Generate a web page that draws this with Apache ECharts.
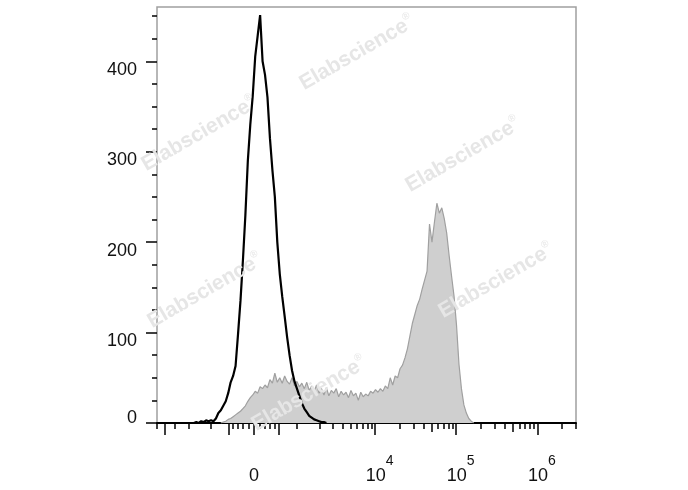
<!DOCTYPE html>
<html><head><meta charset="utf-8">
<script src="https://cdn.jsdelivr.net/npm/echarts@6/dist/echarts.min.js"></script>
<style>html,body{margin:0;padding:0;background:#fff}#c{width:688px;height:490px}</style>
</head><body><div id="c"></div>
<script>
// ---------------- data ----------------
const CHANNELS = 1024;          // display channels across the x axis
const binStep = 6;              // channel width of one histogram bin
const grayStartChannel = 156;   // stained sample (filled gray)
const grayCounts = [0,1,2,4,5,7,9,11,13,16,
  19,24,28,31,35,33,40,38,42,39,
  48,44,55,45,50,44,52,46,43,50,
  41,46,40,44,38,45,36,41,35,42,
  33,38,31,39,30,36,33,38,29,35,
  31,34,28,36,30,33,25,34,29,32,
  30,35,33,37,34,38,35,41,38,50,
  42,52,50,60,64,72,82,96,110,120,
  130,137,148,158,168,220,200,222,243,232,
  238,226,210,185,162,140,108,65,38,20,
  11,5,2,0];
const blackStartChannel = 90;   // control (black line)
const blackCounts = [0,1,0,2,1,3,2,3,2,5,
  11,14,19,24,33,45,52,63,98,135,
  180,230,290,330,362,405,428,451,400,385,
  360,315,280,250,200,165,140,118,95,75,
  58,46,38,30,22,16,12,8,6,4,
  3,2,1,1,0];
const yMax = 460;
const yMajorTicks = [0,100,200,300,400];
const yLabelValues = [100,200,300,400];
const yZeroLabel = [0];
const yMinorTicks = [25,50,75,125,150,175,225,250,275,325,350,375,425,450];
const xLabelValues = [0, 1e4, 1e5, 1e6];
const xLongTicks = [-4000,-500,0,500,1e4,1e5,1e6];
const xMidTicks = [5e4,5e5];
const xShortTicks = [-5000,-3000,-2000,-1000,-400,-300,-200,-100,100,200,300,400,
  1000,2000,3000,4000,5000,6000,7000,8000,9000,
  2e4,3e4,4e4,6e4,7e4,8e4,9e4,
  2e5,3e5,4e5,6e5,7e5,8e5,9e5,
  2e6,3e6];

// ------------- biexponential-like display transform -------------
const C = 641, VMIN = -5000, VMAX = 3.0e6;
const UMIN = Math.asinh(VMIN / C), UMAX = Math.asinh(VMAX / C);
function toChannel(v) { return (Math.asinh(v / C) - UMIN) / (UMAX - UMIN) * CHANNELS; }
function toSeries(start, counts) { return counts.map((c, i) => [start + i * binStep, c]); }

const FONT = '"Liberation Sans", Arial, sans-serif';
const gridRect = {left:157, right:112, top:7, bottom:67};
const tickStyle = {color:'#000', width:1.5};
const baseX = {type:'value', min:0, max:CHANNELS, axisLine:{show:false}, splitLine:{show:false},
  axisLabel:{show:false}, axisTick:{show:false}};
const baseY = {type:'value', min:0, max:yMax, axisLine:{show:false}, splitLine:{show:false},
  axisLabel:{show:false}, axisTick:{show:false}};

const xLabelChannels = xLabelValues.map(toChannel);
function xFormatter(val) {
  let best = 0, bd = Infinity;
  xLabelChannels.forEach((c, i) => { const d = Math.abs(c - val); if (d < bd) { bd = d; best = i; } });
  const v = xLabelValues[best];
  if (v === 0) return '{sp| }{b|0}{sp| }';
  return '{sp| }{b|10}{sup|' + Math.round(Math.log10(v)) + '}';
}

const chart = echarts.init(document.getElementById('c'));
const wmRich = {
  a:{fontSize:21, fontWeight:'bold', fontFamily:FONT, fill:'#e6e6e6'},
  r:{fontSize:10, fontFamily:FONT, fill:'#e6e6e6', verticalAlign:'top', lineHeight:24}
};
function wm(x, y) {
  return {type:'text', x:x, y:y, rotation:Math.PI/6, z:100, silent:true,
    style:{text:'{a|Elabscience}{r|®}', rich:wmRich, align:'center', verticalAlign:'middle'}};
}
chart.setOption({
  animation:false,
  grid:[Object.assign({show:true, borderColor:'#a0a0a0', borderWidth:1.5}, gridRect),
        Object.assign({}, gridRect), Object.assign({}, gridRect)],
  xAxis:[
    Object.assign({}, baseX, {gridIndex:0,
      axisLine:{show:true, lineStyle:{color:'#000', width:2}},
      axisTick:{show:true, customValues:xLongTicks.map(toChannel), length:12, lineStyle:tickStyle},
      axisLabel:{show:true, customValues:xLabelChannels, formatter:xFormatter, margin:31,
        rich:{
          sp:{width:9, fontSize:18, lineHeight:31, fontFamily:FONT},
          b:{fontSize:18, lineHeight:20, verticalAlign:'bottom', color:'#111', fontFamily:FONT},
          sup:{fontSize:14, lineHeight:15, verticalAlign:'top', color:'#111', fontFamily:FONT}
        }}}),
    Object.assign({}, baseX, {gridIndex:1,
      axisTick:{show:true, customValues:xMidTicks.map(toChannel), length:9, lineStyle:tickStyle}}),
    Object.assign({}, baseX, {gridIndex:2,
      axisTick:{show:true, customValues:xShortTicks.map(toChannel), length:6, lineStyle:tickStyle}})
  ],
  yAxis:[
    Object.assign({}, baseY, {gridIndex:0,
      axisTick:{show:true, customValues:yMajorTicks, length:11, lineStyle:tickStyle},
      axisLabel:{show:true, customValues:yLabelValues, margin:20, verticalAlign:'top', lineHeight:17,
        fontSize:18, color:'#111', fontFamily:FONT}}),
    Object.assign({}, baseY, {gridIndex:1,
      axisTick:{show:true, customValues:yMinorTicks, length:5, lineStyle:tickStyle},
      axisLabel:{show:true, customValues:yZeroLabel, margin:20, verticalAlign:'bottom', lineHeight:10,
        fontSize:18, color:'#111', fontFamily:FONT}}),
    Object.assign({}, baseY, {gridIndex:2})
  ],
  series:[
    {type:'line', xAxisIndex:0, yAxisIndex:0, data:toSeries(grayStartChannel, grayCounts),
      showSymbol:false, lineStyle:{color:'#a0a0a0', width:1.2}, areaStyle:{color:'#cfcfcf', opacity:1}, z:2},
    {type:'line', xAxisIndex:0, yAxisIndex:0, data:toSeries(blackStartChannel, blackCounts),
      showSymbol:false, lineStyle:{color:'#000', width:2.2}, z:3}
  ],
  graphic:[wm(357,53), wm(199,134), wm(463,155), wm(205,291), wm(496,281), wm(309,394)]
});
</script></body></html>
